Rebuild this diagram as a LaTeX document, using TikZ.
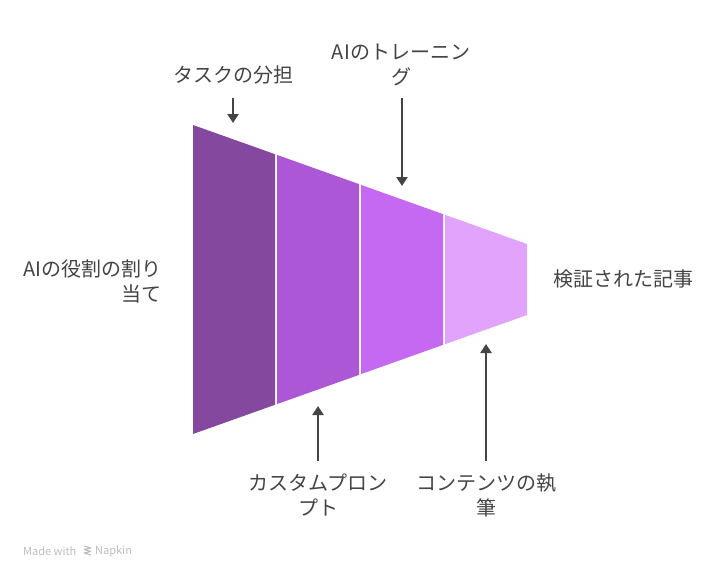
\documentclass[tikz,border=0pt]{standalone}
\usepackage{fontspec}
\setmainfont{Noto Sans CJK JP}
\usetikzlibrary{arrows.meta}

\definecolor{stageA}{HTML}{84499E}
\definecolor{stageB}{HTML}{AC57D6}
\definecolor{stageC}{HTML}{C569F2}
\definecolor{stageD}{HTML}{E1A3FB}
\definecolor{labelgray}{HTML}{444444}
\definecolor{markgray}{HTML}{BDBDBD}

\begin{document}
\begin{tikzpicture}[x=1pt,y=-1pt,
	lbl/.style={text=labelgray,font=\fontsize{20}{25}\selectfont,align=center,inner sep=0pt},
	pointer/.style={draw=labelgray,line width=2.4pt,-{Triangle[length=9pt,width=11pt]}}]
	\useasboundingbox (0,0) rectangle (720,578);

	% funnel stages
	\fill[stageA] (193,125) -- (275,154.2) -- (275,404.8) -- (193,434) -- cycle;
	\fill[stageB] (277,154.9) -- (359,184.1) -- (359,374.9) -- (277,404.1) -- cycle;
	\fill[stageC] (361,184.9) -- (443,214.1) -- (443,344.9) -- (361,374.1) -- cycle;
	\fill[stageD] (445,214.8) -- (527,244) -- (527,315) -- (445,344.2) -- cycle;

	% labels
	\node[lbl] (task) at (233,75) {タスクの分担};
	\node[lbl] (train) at (401,64.5) {AIのトレーニン\\グ};
	\node[lbl,anchor=east,align=right] (role) at (162,281.5) {AIの役割の割り\\当て};
	\node[lbl,anchor=west] (result) at (553,279) {検証された記事};
	\node[lbl] (prompt) at (318,495) {カスタムプロン\\プト};
	\node[lbl] (write) at (486,495) {コンテンツの執\\筆};

	% pointers
	\coordinate (taskFrom) at (233,98);
	\coordinate (taskTip) at (233,123);
	\coordinate (trainFrom) at (402,98);
	\coordinate (trainTip) at (402,186);
	\coordinate (promptFrom) at (318,461);
	\coordinate (promptTip) at (318,406);
	\coordinate (writeFrom) at (486,461);
	\coordinate (writeTip) at (486,344);
	\draw[pointer] (taskFrom) -- (taskTip);
	\draw[pointer] (trainFrom) -- (trainTip);
	\draw[pointer] (promptFrom) -- (promptTip);
	\draw[pointer] (writeFrom) -- (writeTip);

	% watermark
	\node[anchor=west,text=markgray,font=\fontsize{11}{13}\selectfont,inner sep=0pt] (made) at (23,551) {Made with};
	\draw[markgray,line width=1.1pt] (84,546) -- (91,548) (84,549.5) -- (91,551.5) (84,553) -- (91,555) (91,548) -- (84,549.5) (91,551.5) -- (84,553);
	\node[anchor=west,text=markgray,font=\fontsize{11}{13}\selectfont,inner sep=0pt] (napkin) at (95,551) {Napkin};
\end{tikzpicture}
\end{document}
